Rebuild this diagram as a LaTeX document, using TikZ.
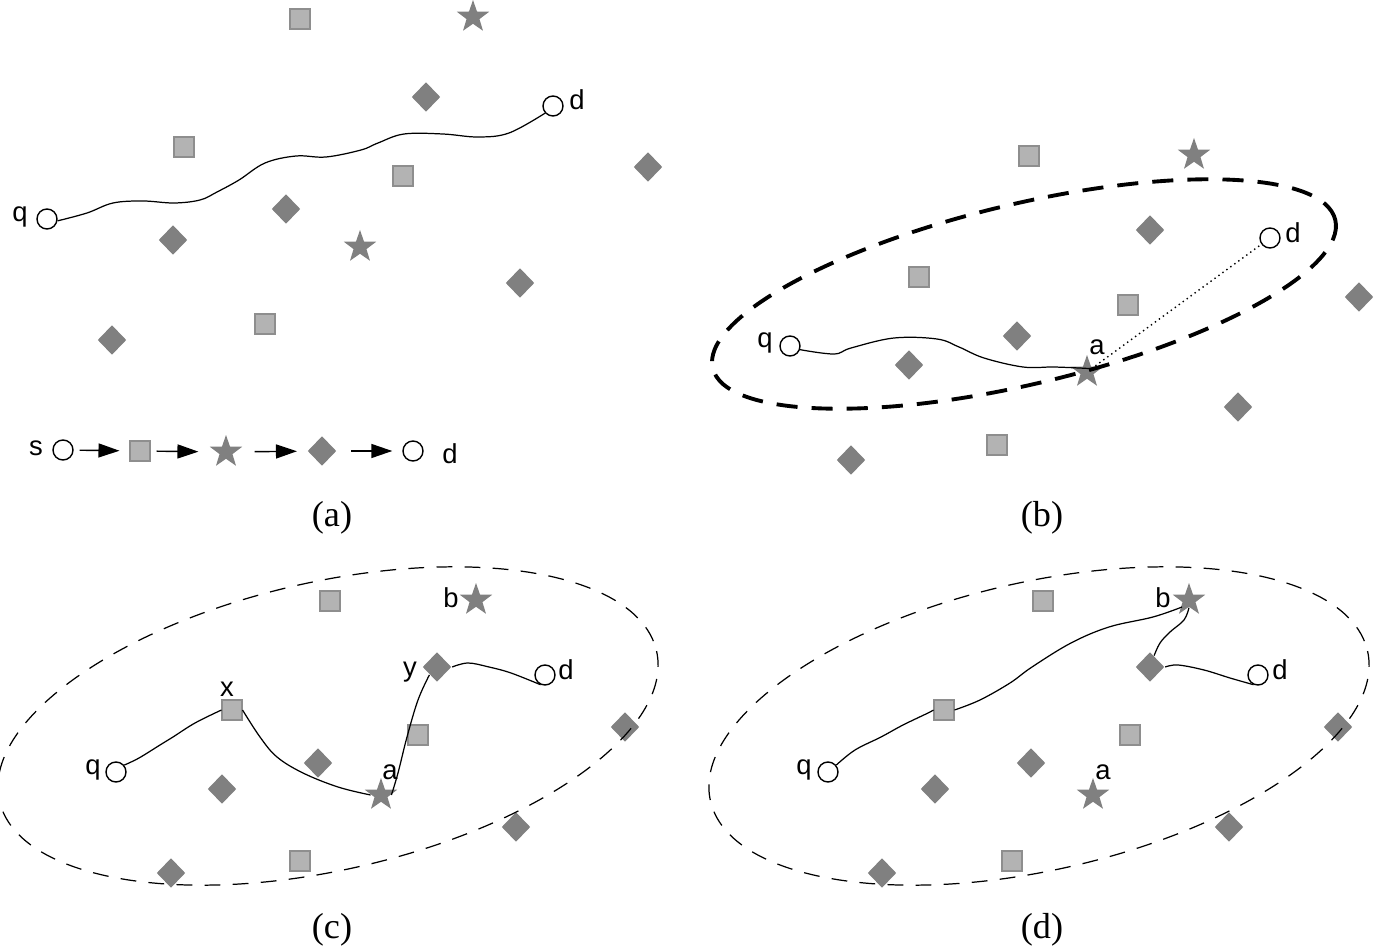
\documentclass[tikz,border=0pt]{standalone}
\usepackage{fontspec}
\setmainfont{Liberation Serif}
\setsansfont{Liberation Sans}
\usetikzlibrary{positioning,arrows.meta,shapes.geometric}

\definecolor{boxgray}{HTML}{B3B3B3}
\definecolor{boxline}{HTML}{8E8E8E}
\definecolor{markgray}{HTML}{808080}

\begin{document}
\begin{tikzpicture}[
  x=0.1mm, y=-0.1mm,
  >={Triangle[length=2.1mm, width=1.4mm]},
  sq/.style={draw=boxline, fill=boxgray, line width=0.3pt, minimum size=2mm, inner sep=0pt},
  dm/.style={diamond, fill=markgray, minimum width=2.9mm, minimum height=3mm, inner sep=0pt},
  st/.style={star, star points=5, star point ratio=2.5, fill=markgray, minimum size=3.4mm, inner sep=0pt},
  nd/.style={circle, draw, fill=white, line width=0.4pt, minimum size=2mm, inner sep=0pt},
  lb/.style={font=\sffamily\fontsize{7.8}{9}\selectfont, inner sep=0pt},
  captext/.style={font=\fontsize{10.3}{12}\selectfont, inner sep=0pt},
  wig/.style={line width=0.35pt},
  hop/.style={->, line width=0.4pt, shorten <=0.6mm, shorten >=1mm},
  bigring/.style={line width=1.1pt, dash pattern=on 6pt off 4pt},
  ring/.style={line width=0.35pt, dash pattern=on 4.5pt off 3.5pt}]

  \useasboundingbox (0,0) rectangle (1375,949);

  % (a)
  \node[sq] (a-s1) at (300,19) {};
  \node[sq] (a-s2) at (184,147) {};
  \node[sq] (a-s3) at (403,176) {};
  \node[sq] (a-s4) at (265,324) {};
  \node[st] (a-t1) at (473,17) {};
  \node[st] (a-t2) at (360,247) {};
  \node[dm] (a-d1) at (426,97) {};
  \node[dm] (a-d2) at (648,167) {};
  \node[dm] (a-d3) at (286,209) {};
  \node[dm] (a-d4) at (173,240) {};
  \node[dm] (a-d5) at (520,283) {};
  \node[dm] (a-d6) at (112,340) {};
  \node[nd] (qa) at (47,219) {};
  \node[nd] (da) at (553,106) {};
  \node[lb] (qa-l) at (20,217) {q};
  \node[lb] (da-l) at (577,100) {d};

  \draw[wig] plot[smooth, tension=0.6] coordinates {(qa.-10) (87,213) (113,203)
    (143,201) (174,203) (200,200) (217,192) (239,180) (265,163) (296,156)
    (326,157) (361,150) (378,143) (404,134) (443,134) (478,137) (509,133) (da.-138)};

  \node[nd] (ch-s) at (63,450) {};
  \node[sq] (ch-q) at (140,451) {};
  \node[st] (ch-t) at (226,452) {};
  \node[dm] (ch-d) at (322,451) {};
  \node[nd] (ch-e) at (413,451) {};
  \node[lb] (ch-sl) at (36,448) {s};
  \node[lb] (ch-el) at (450,454) {d};
  \draw[hop] (ch-s) -- (ch-q);
  \draw[hop, shorten >=1.7mm] (ch-q) -- (ch-t);
  \draw[hop, shorten <=1.8mm] (ch-t) -- (ch-d);
  \draw[hop, shorten <=1.4mm] (ch-d) -- (ch-e);

  \node[captext] (cap-a) at (332,518) {(a)};

  % (b)
  \node[sq] (b-s1) at (1029,156) {};
  \node[sq] (b-s2) at (919,277) {};
  \node[sq] (b-s3) at (1128,305) {};
  \node[sq] (b-s4) at (997,445) {};
  \node[st] (b-t1) at (1194,155) {};
  \node[st] (ab) at (1087,372) {};
  \node[dm] (b-d1) at (1150,230) {};
  \node[dm] (b-d2) at (1359,297) {};
  \node[dm] (b-d3) at (1017,336) {};
  \node[dm] (b-d4) at (909,365) {};
  \node[dm] (b-d5) at (1238,407) {};
  \node[dm] (b-d6) at (851,460) {};
  \node[nd] (qb) at (790,346) {};
  \node[nd] (db) at (1270,238) {};
  \node[lb] (qb-l) at (765,343) {q};
  \node[lb] (ab-l) at (1097,347) {a};
  \node[lb] (db-l) at (1293,233) {d};

  \draw[bigring, rotate around={13.4:(1024,294)}] (1024,294) ellipse [x radius=320, y radius=90];
  \draw[wig] plot[smooth, tension=0.6] coordinates {(qb.-20) (834,354) (851,348)
    (894,338) (937,339) (959,347) (984,358) (1023,367) (1053,367) (1079,368) (1097,369)};
  \draw[densely dotted, line width=0.4pt] (ab) -- (db);

  \node[captext] (cap-b) at (1042,518) {(b)};

  % (c)
  \node[sq] (c-s1) at (330,601) {};
  \node[sq] (xc) at (232,710) {};
  \node[sq] (c-s3) at (418,735) {};
  \node[sq] (c-s4) at (300,861) {};
  \node[st] (bc) at (476,600) {};
  \node[st] (ac) at (381,795) {};
  \node[dm] (yc) at (437,667) {};
  \node[dm] (c-d2) at (625,727) {};
  \node[dm] (c-d3) at (318,763) {};
  \node[dm] (c-d4) at (222,789) {};
  \node[dm] (c-d5) at (516,827) {};
  \node[dm] (c-d6) at (171,873) {};
  \node[nd] (qc) at (116,772) {};
  \node[nd] (dc) at (545,675) {};
  \node[lb] (qc-l) at (93,770) {q};
  \node[lb] (xc-l) at (227,689) {x};
  \node[lb] (yc-l) at (410,672) {y};
  \node[lb] (ac-l) at (390,772) {a};
  \node[lb] (bc-l) at (451,598) {b};
  \node[lb] (dc-l) at (566,670) {d};

  \draw[ring, rotate around={12.85:(328,726)}] (328,726) ellipse [x radius=337, y radius=144];
  \draw[wig] plot[smooth, tension=0.6] coordinates {(qc.40) (139,758) (160,745)
    (173,737) (195,723) (xc.west)};
  \draw[wig] plot[smooth, tension=0.6] coordinates {(xc.east) (260,737) (277,757)
    (303,773) (338,787) (ac.west)};
  \draw[wig] plot[smooth, tension=0.6] coordinates {(ac.east) (398,773) (407,737)
    (418,700) (yc.south west)};
  \draw[wig] plot[smooth, tension=0.6] coordinates {(yc.east) (468,663) (489,667)
    (511,673) (dc.-115)};

  \node[captext] (cap-c) at (332,930) {(c)};

  % (d)
  \node[sq] (d-s1) at (1043,601) {};
  \node[sq] (xd) at (944,710) {};
  \node[sq] (d-s3) at (1130,735) {};
  \node[sq] (d-s4) at (1012,861) {};
  \node[st] (bd) at (1189,600) {};
  \node[st] (ad) at (1093,795) {};
  \node[dm] (yd) at (1150,667) {};
  \node[dm] (d-d2) at (1338,727) {};
  \node[dm] (d-d3) at (1031,763) {};
  \node[dm] (d-d4) at (935,789) {};
  \node[dm] (d-d5) at (1229,827) {};
  \node[dm] (d-d6) at (882,873) {};
  \node[nd] (qd) at (828,772) {};
  \node[nd] (dd) at (1258,675) {};
  \node[lb] (qd-l) at (804,770) {q};
  \node[lb] (ad-l) at (1103,772) {a};
  \node[lb] (bd-l) at (1163,598) {b};
  \node[lb] (dd-l) at (1280,670) {d};

  \draw[ring, rotate around={12.85:(1039,726)}] (1039,726) ellipse [x radius=337, y radius=144];
  \draw[wig] plot[smooth, tension=0.6] coordinates {(qd.40) (855,750) (881,737)
    (903,725) (928,713) (xd.west)};
  \draw[wig] plot[smooth, tension=0.6] coordinates {(xd.east) (980,700) (1010,683)
    (1032,667) (1071,643) (1109,627) (1153,617) (1182,607)};
  \draw[wig] plot[smooth, tension=0.6] coordinates {(bd.south) (1184,620)
    (1170,632) (1160,643) (yd.70)};
  \draw[wig] plot[smooth, tension=0.6] coordinates {(yd.east) (1178,665) (1204,670)
    (1230,678) (dd.-115)};

  \node[captext] (cap-d) at (1042,930) {(d)};
\end{tikzpicture}
\end{document}
